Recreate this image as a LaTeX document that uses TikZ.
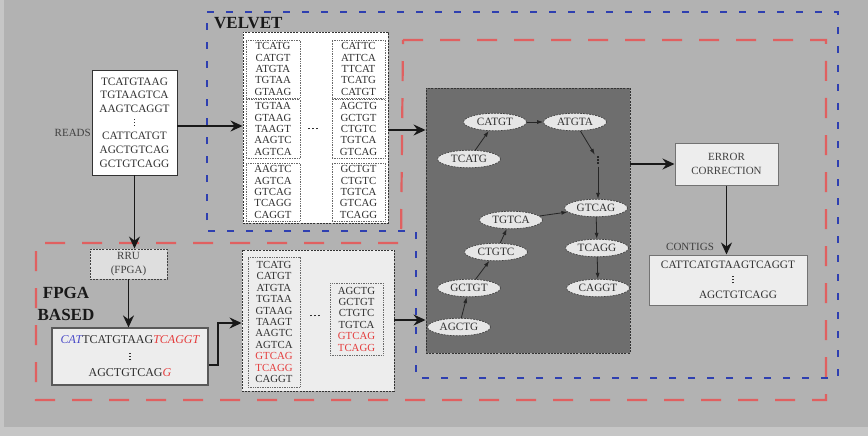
\documentclass[tikz,border=0pt]{standalone}
\usepackage{fontspec}
\setmainfont{Liberation Serif}
\usetikzlibrary{arrows.meta,shapes.geometric}
\definecolor{outer}{HTML}{C6C6C6}
\definecolor{bg}{HTML}{B2B2B2}
\definecolor{txt}{HTML}{303030}
\definecolor{labtxt}{HTML}{404040}
\definecolor{dotcol}{HTML}{6A6A6A}
\definecolor{boxline}{HTML}{333333}
\definecolor{ellfill}{HTML}{E6E6E6}
\definecolor{graphfill}{HTML}{6E6E6E}
\definecolor{lightfill}{HTML}{EDEDED}
\definecolor{rrufill}{HTML}{DEDEDE}
\definecolor{bluel}{HTML}{2E3FB0}
\definecolor{redl}{HTML}{E06060}
\definecolor{redt}{HTML}{E43C3C}
\definecolor{bluet}{HTML}{4A4AC8}
\newcommand\kmerfont{\fontsize{10.8}{11.4}\selectfont}
\newcommand\readfont{\fontsize{11.3}{13.7}\selectfont}
\newcommand\ellfont{\fontsize{11.2}{13}\selectfont}
\newcommand\labfont{\fontsize{11}{14}\selectfont}
\newcommand\bigbold{\fontsize{17}{22}\selectfont\bfseries}
\newcommand\dotsq{\vrule width1.4pt height1.4pt depth0pt}
\newcommand\bigdotsq{\vrule width1.7pt height1.7pt depth0pt}
\newcommand\tvdots{\raisebox{0.2pt}{\vbox{\offinterlineskip\hbox{\dotsq}\vskip1.6pt\hbox{\dotsq}\vskip1.6pt\hbox{\dotsq}}}}
\newcommand\hdots{\raisebox{2.8pt}{\hbox{\bigdotsq\kern2.4pt\bigdotsq\kern2.4pt\bigdotsq}}}
\begin{document}
\begin{tikzpicture}[x=1pt,y=-1pt,
  kmer/.style={draw=dotcol, dash pattern=on 0.8pt off 0.9pt, line width=0.6pt, inner sep=0pt, align=center, text=txt, font=\kmerfont},
  bigbox/.style={draw=boxline, dash pattern=on 2pt off 1.2pt, line width=0.9pt, inner sep=0pt},
  bigarrow/.style={-{Stealth[length=12pt,width=11pt,inset=4pt]}, line width=1.4pt, draw=black!90},
  garrow/.style={-{Latex[length=6pt,width=4pt]}, line width=0.8pt, draw=black!85},
  kell/.style={ellipse, draw=black!75, dash pattern=on 2pt off 1pt, line width=0.7pt, fill=ellfill, minimum width=63pt, minimum height=17.5pt, inner sep=0pt, font=\ellfont, text=txt},
  lab/.style={font=\labfont, text=labtxt, inner sep=0pt},
  solidbox/.style={draw=black!65, line width=1.2pt, fill=lightfill, inner sep=0pt, align=center, text=txt},
  reddash/.style={draw=redl, line width=2.2pt, dash pattern=on 20pt off 17pt},
  bluedash/.style={draw=bluel, line width=2pt, dash pattern=on 7pt off 12pt},
]
\useasboundingbox (0,0) rectangle (868,436);
\fill[outer] (0,0) rectangle (868,436);
\fill[bg] (4,0) rectangle (868,427);

% regions
\draw[reddash] (403,40) -- (826,40) -- (826,400) -- (36,400) -- (36,243) -- (401,243) -- cycle;
\draw[bluedash] (207,12) -- (838,12) -- (838,378) -- (416,378) -- (416,231) -- (207,231) -- cycle;

% labels
\node[font=\bigbold, anchor=west, text=black!90, inner sep=0pt] (velvetlab) at (214,23) {VELVET};
\node[font=\bigbold, align=center, text=black!90, inner sep=0pt] (fpgalab) at (66,304) {FPGA\\BASED};

% reads
\node[draw=black!80, fill=white, line width=0.9pt, minimum width=85pt, minimum height=105pt, inner sep=0pt, align=center, font=\readfont, text=txt] (reads) at (134.5,122.5)
  {TCATGTAAG\\TGTAAGTCA\\AAGTCAGGT\\\tvdots\\CATTCATGT\\AGCTGTCAG\\GCTGTCAGG};
\node[lab, anchor=east] (readslab) at (91,133) {READS};

% velvet k-mers
\node[bigbox, fill=white, minimum width=145pt, minimum height=191pt] (velvet) at (315.5,127.5) {};
\node[kmer, minimum width=54pt, minimum height=58pt] (v1) at (273,69) {TCATG\\CATGT\\ATGTA\\TGTAA\\GTAAG};
\node[kmer, minimum width=54pt, minimum height=59pt] (v2) at (273,129) {TGTAA\\GTAAG\\TAAGT\\AAGTC\\AGTCA};
\node[kmer, minimum width=54pt, minimum height=58pt] (v3) at (273,192) {AAGTC\\AGTCA\\GTCAG\\TCAGG\\CAGGT};
\node[kmer, minimum width=53pt, minimum height=58pt] (v4) at (358.5,69) {CATTC\\ATTCA\\TTCAT\\TCATG\\CATGT};
\node[kmer, minimum width=53pt, minimum height=59pt] (v5) at (358.5,129) {AGCTG\\GCTGT\\CTGTC\\TGTCA\\GTCAG};
\node[kmer, minimum width=53pt, minimum height=58pt] (v6) at (358.5,192) {GCTGT\\CTGTC\\TGTCA\\GTCAG\\TCAGG};
\node[text=txt, inner sep=1pt] (vdots) at (313,130) {\hdots};

% FPGA part
\node[draw=black!75, dash pattern=on 2pt off 1.2pt, line width=0.9pt, fill=rrufill, minimum width=77pt, minimum height=30pt, inner sep=0pt, align=center, font=\labfont, text=labtxt] (rru) at (128.5,264) {RRU\\(FPGA)};
\node[solidbox, minimum width=156pt, minimum height=57pt, font=\fontsize{12}{16.5}\selectfont] (fread) at (130,356.5)
  {\textcolor{bluet}{\itshape CAT}TCATGTAAG\textcolor{redt}{\itshape TCAGGT}\\\tvdots\\AGCTGTCAG\textcolor{redt}{\itshape G}};

\node[bigbox, fill=lightfill, minimum width=152pt, minimum height=141pt] (fkmer) at (318,320.5) {};
\node[kmer, minimum width=52pt, minimum height=130pt] (f1) at (274,322)
  {TCATG\\CATGT\\ATGTA\\TGTAA\\GTAAG\\TAAGT\\AAGTC\\AGTCA\\\textcolor{redt}{GTCAG}\\\textcolor{redt}{TCAGG}\\CAGGT};
\node[kmer, minimum width=53pt, minimum height=72pt] (f2) at (356.5,319)
  {AGCTG\\GCTGT\\CTGTC\\TGTCA\\\textcolor{redt}{GTCAG}\\\textcolor{redt}{TCAGG}};
\node[text=txt, inner sep=1pt] (fdots) at (315,317) {\hdots};

% de Bruijn graph
\node[bigbox, fill=graphfill, minimum width=204pt, minimum height=265pt] (graph) at (528,220.5) {};
\node[kell] (catgt) at (495,122) {CATGT};
\node[kell] (atgta) at (575,122) {ATGTA};
\node[kell] (tcatg) at (469,159) {TCATG};
\node[inner sep=0pt, minimum width=6pt, minimum height=13pt, text=black!85] (gdots) at (598,160) {\tvdots};
\node[kell] (gtcag) at (596,208) {GTCAG};
\node[kell] (tgtca) at (511,220) {TGTCA};
\node[kell] (ctgtc) at (496,252) {CTGTC};
\node[kell] (tcagg) at (597,248) {TCAGG};
\node[kell] (gctgt) at (469,288) {GCTGT};
\node[kell] (caggt) at (598,288) {CAGGT};
\node[kell] (agctg) at (459,327) {AGCTG};

\draw[garrow] (tcatg) -- (catgt);
\draw[garrow] (catgt) -- (atgta);
\draw[garrow] (atgta) -- (gdots);
\draw[garrow] (gdots.south) -- (gdots.south |- gtcag.north);
\draw[garrow] (agctg) -- (gctgt);
\draw[garrow] (gctgt) -- (ctgtc);
\draw[garrow] (ctgtc) -- (tgtca);
\draw[garrow] (tgtca) -- (gtcag);
\draw[garrow] (gtcag) -- (tcagg);
\draw[garrow] (tcagg) -- (caggt);

% error correction and contigs
\node[solidbox, draw=black!55, line width=1pt, minimum width=103pt, minimum height=42pt, font=\labfont, text=labtxt] (error) at (726.5,164) {ERROR\\CORRECTION};
\node[solidbox, draw=black!55, line width=1pt, minimum width=158pt, minimum height=50pt, font=\fontsize{11.3}{15}\selectfont] (contigs) at (728,280)
  {CATTCATGTAAGTCAGGT\\\hspace*{10pt}\tvdots\\\hspace*{20pt}AGCTGTCAGG};
\node[lab, anchor=west] (contigslab) at (666,247) {CONTIGS};

% connectors
\coordinate (bend) at (218,323);
\draw[bigarrow] (reads.east |- 0,126) -- (velvet.west |- 0,126);
\draw[bigarrow] (velvet.east |- 0,130) -- (graph.west |- 0,130);
\draw[bigarrow] (reads.south) -- (reads.south |- rru.north);
\draw[bigarrow] (rru.south) -- (rru.south |- fread.north);
\draw[bigarrow] (fread.east |- 0,365) -| (bend) -- (fkmer.west |- bend);
\draw[bigarrow] (fkmer.east |- 0,320) -- (graph.west |- 0,320);
\draw[bigarrow] (graph.east |- error.west) -- (error.west);
\draw[bigarrow] (error.south) -- (error.south |- contigs.north);
\end{tikzpicture}
\end{document}
